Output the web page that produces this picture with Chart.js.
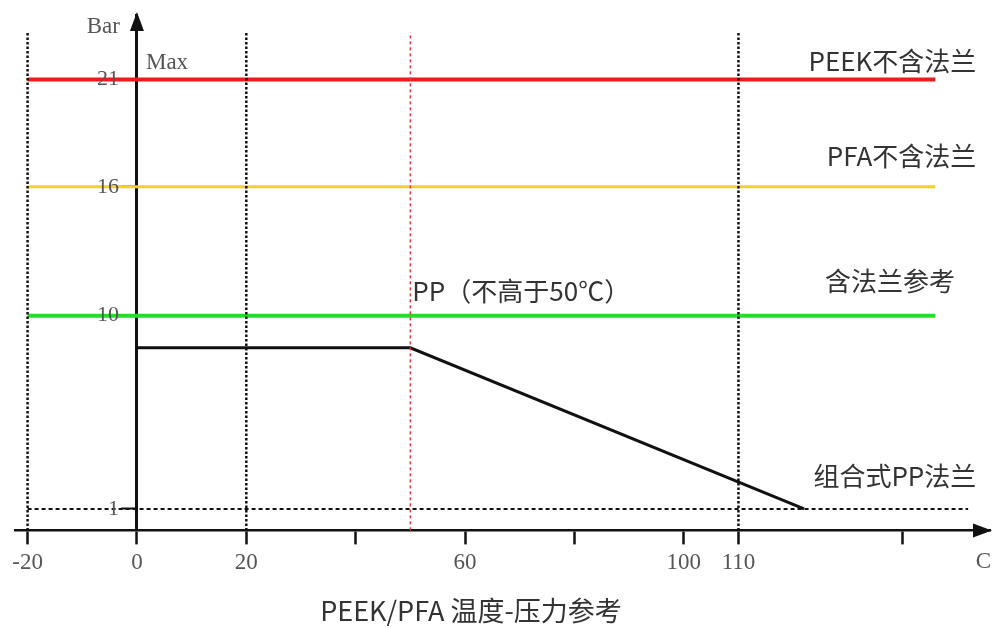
<!DOCTYPE html>
<html>
<head>
<meta charset="utf-8">
<script src="https://cdn.jsdelivr.net/npm/chart.js@4"></script>
<style>
html, body { margin: 0; padding: 0; background: #fff; }
</style>
</head>
<body>
<canvas id="myChart" width="992" height="628"></canvas>
<script>
// pressure (Bar) vs temperature (C)
const peekPressure = [21, 21];
const pfaPressure = [16, 16];
const flangePressure = [10, 10];
const lineTemps = [-20, 146];
const ppTemps = [0, 50, 122];
const ppPressure = [8.5, 8.5, 1];
const minTemps = [-20, 152];
const minPressure = [1, 1];
const guideTemps = [-20, 20, 110];
const ppLimitTemp = 50;
const guideTop = 23.2;
const xTicks = [-20, 0, 20, 40, 60, 80, 100, 110, 140];
const xTickLabels = ['-20', '0', '20', '', '60', '', '100', '110', ''];
const yTicks = [1, 10, 16, 21];

const serif = '"Liberation Serif", serif';
const sans = '"Noto Sans CJK SC", "Noto Sans", sans-serif';

function pts(xs, ys) {
    return xs.map((x, i) => ({ x: x, y: ys[i] }));
}

const datasets = [];

guideTemps.forEach(t => {
    datasets.push({
        data: pts([t, t], [0, guideTop]),
        borderColor: '#111',
        borderWidth: 2.5,
        borderDash: [2.5, 2],
        pointRadius: 0
    });
});
datasets.push({
    data: pts([ppLimitTemp, ppLimitTemp], [0, guideTop]),
    borderColor: '#e8343c',
    borderWidth: 1.5,
    borderDash: [3, 3],
    pointRadius: 0
});
datasets.push({
    data: pts(minTemps, minPressure),
    borderColor: '#111',
    borderWidth: 2,
    borderDash: [4, 3],
    pointRadius: 0
});
datasets.push({
    data: pts(lineTemps, peekPressure),
    borderColor: '#ee1b1b',
    borderWidth: 4,
    pointRadius: 0
});
datasets.push({
    data: pts(lineTemps, pfaPressure),
    borderColor: '#f2d22a',
    borderWidth: 3,
    pointRadius: 0
});
datasets.push({
    data: pts(lineTemps, flangePressure),
    borderColor: '#22e02a',
    borderWidth: 4,
    pointRadius: 0
});
datasets.push({
    data: pts(ppTemps, ppPressure),
    borderColor: '#111',
    borderWidth: 3,
    pointRadius: 0
});

const decorPlugin = {
    id: 'decor',
    afterDraw(chart) {
        const { ctx, chartArea: a, scales: { x, y } } = chart;
        const x0 = x.getPixelForValue(0);
        ctx.save();
        ctx.fillStyle = '#111';
        // arrows
        ctx.beginPath();
        ctx.moveTo(x0, a.top - 3);
        ctx.lineTo(x0 - 7, a.top + 16);
        ctx.lineTo(x0 + 7, a.top + 16);
        ctx.closePath();
        ctx.fill();
        ctx.beginPath();
        ctx.moveTo(a.right + 2, a.bottom);
        ctx.lineTo(a.right - 17, a.bottom - 7);
        ctx.lineTo(a.right - 17, a.bottom + 7);
        ctx.closePath();
        ctx.fill();

        // y tick labels, left of the tick marks
        ctx.fillStyle = '#555';
        ctx.font = '22px ' + serif;
        ctx.textBaseline = 'middle';
        ctx.textAlign = 'right';
        y.ticks.forEach(t => {
            ctx.fillText(String(t.value), x0 - 18, y.getPixelForValue(t.value));
        });

        // axis words
        ctx.font = '23px ' + serif;
        ctx.fillText('Bar', x0 - 17, a.top + 12);
        ctx.textAlign = 'left';
        ctx.fillText('Max', x0 + 9, y.getPixelForValue(21) - 16);
        ctx.textAlign = 'right';
        ctx.fillText('C', a.right + 1, a.bottom + 32);

        // series labels
        ctx.fillStyle = '#333';
        ctx.font = '26px ' + sans;
        const rx = x.getPixelForValue(153.5);
        ctx.fillText('PEEK不含法兰', rx, y.getPixelForValue(21) - 18);
        ctx.fillText('PFA不含法兰', rx, y.getPixelForValue(16) - 31);
        ctx.fillText('含法兰参考', x.getPixelForValue(149.6), y.getPixelForValue(10) - 35);
        ctx.fillText('组合式PP法兰', rx, y.getPixelForValue(1) - 33);
        ctx.textAlign = 'left';
        ctx.fillText('PP（不高于50℃）', x.getPixelForValue(ppLimitTemp) + 2, y.getPixelForValue(10) - 25);

        // title
        ctx.textAlign = 'center';
        ctx.font = '27px ' + sans;
        ctx.fillText('PEEK/PFA 温度-压力参考', 471, 611);
        ctx.restore();
    }
};

new Chart(document.getElementById('myChart').getContext('2d'), {
    type: 'scatter',
    data: { datasets: datasets },
    options: {
        responsive: false,
        animation: false,
        showLine: true,
        layout: { padding: { left: 15, right: 2, top: 15, bottom: 46 } },
        plugins: { legend: { display: false }, tooltip: { enabled: false } },
        datasets: { scatter: { clip: false } },
        scales: {
            x: {
                type: 'linear',
                min: -22.3,
                max: 156,
                afterBuildTicks: s => { s.ticks = xTicks.map(v => ({ value: v })); },
                ticks: {
                    autoSkip: false,
                    maxRotation: 0,
                    padding: 5,
                    color: '#555',
                    font: { family: serif, size: 23 },
                    callback: v => xTickLabels[xTicks.indexOf(v)]
                },
                grid: { drawOnChartArea: false, tickLength: 14, tickWidth: 2.5, tickColor: '#111' },
                border: { color: '#111', width: 2.5 }
            },
            y: {
                type: 'linear',
                min: 0,
                max: 24,
                position: { x: 0 },
                afterBuildTicks: s => { s.ticks = yTicks.map(v => ({ value: v })); },
                afterFit: s => { s.paddingTop = 0; s.paddingBottom = 0; },
                ticks: { display: false },
                grid: { drawOnChartArea: false, tickLength: 14, tickWidth: 2, tickColor: '#111' },
                border: { color: '#111', width: 3 }
            }
        }
    },
    plugins: [decorPlugin]
});
</script>
</body>
</html>
